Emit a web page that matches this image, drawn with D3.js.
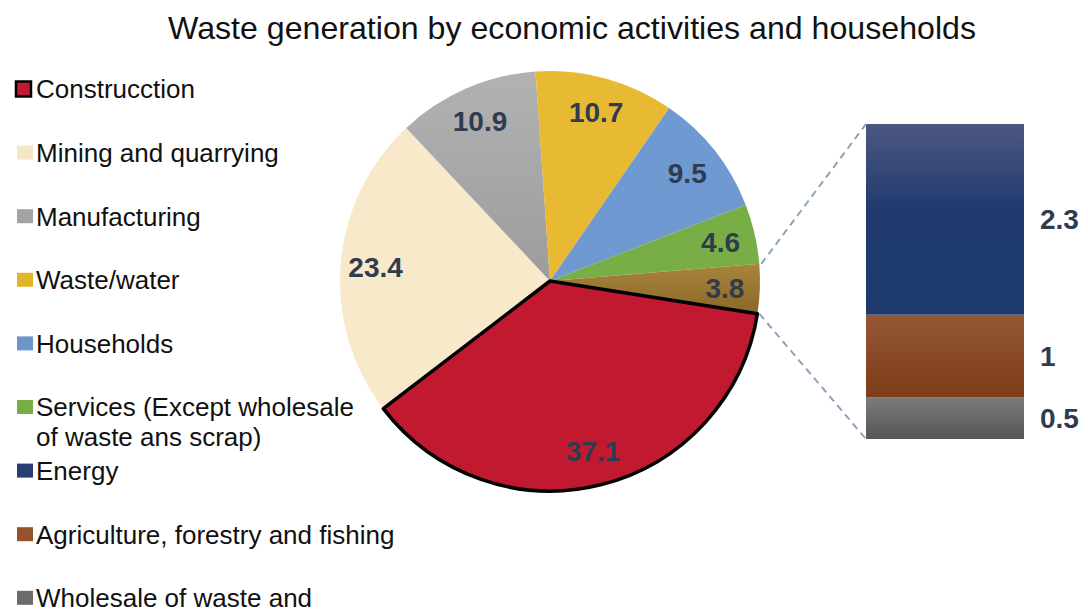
<!DOCTYPE html>
<html>
<head>
<meta charset="utf-8">
<script src="https://cdn.jsdelivr.net/npm/d3@7"></script>
<style>
  html, body { margin: 0; padding: 0; background: #fff; }
  svg { display: block; font-family: "Liberation Sans", Arial, sans-serif; }
</style>
</head>
<body>
<svg id="chart" width="1088" height="614"></svg>
<script>
// Pie slices (share of total waste, %)
const pieNames = ["Construcction", "Mining and quarrying", "Manufacturing", "Waste/water",
                  "Households", "Services (Except wholesale of waste ans scrap)", "Other"];
const pieValues = [37.1, 23.4, 10.9, 10.7, 9.5, 4.6, 3.8];

// Breakdown of the "Other" slice shown as a stacked bar
const barNames = ["Energy", "Agriculture, forestry and fishing", "Wholesale of waste and scrap"];
const barValues = [2.3, 1, 0.5];

// Legend entries (text lines per entry)
const legendLines = [
  ["Construcction"],
  ["Mining and quarrying"],
  ["Manufacturing"],
  ["Waste/water"],
  ["Households"],
  ["Services (Except wholesale", "of waste ans scrap)"],
  ["Energy"],
  ["Agriculture, forestry and fishing"],
  ["Wholesale of waste and"]
];

const title = "Waste generation by economic activities and households";

const pieColors = ["#c1192f", "#f7e9c9", "#a6a6a6", "#e8b932", "#6f99d1", "#79ae46", "#9a7833"];
const legendColors = ["#c1192f", "#f5e6c4", "#a3a3a3", "#e2b42c", "#6c95ce", "#77ac47", "#293f73", "#95522b", "#6b6b6b"];

const svg = d3.select("#chart");
const defs = svg.append("defs");

function vGrad(id, stops) {
  const g = defs.append("linearGradient").attr("id", id)
    .attr("x1", 0).attr("y1", 0).attr("x2", 0).attr("y2", 1);
  stops.forEach(s => g.append("stop").attr("offset", s[0]).attr("stop-color", s[1]));
  return `url(#${id})`;
}
const gradOther = vGrad("gOther", [[0, "#a8853c"], [1, "#8a6826"]]);
const gradManu = vGrad("gManu", [[0, "#b2b2b2"], [1, "#9c9c9c"]]);
const gradEnergy = vGrad("gEnergy", [[0, "#4d5881"], [0.45, "#213b70"], [1, "#1d396e"]]);
const gradAgri = vGrad("gAgri", [[0, "#955735"], [1, "#7e3c18"]]);
const gradWhole = vGrad("gWhole", [[0, "#7b7b7b"], [1, "#555555"]]);

const pieFills = pieColors.slice();
pieFills[2] = gradManu;
pieFills[6] = gradOther;
const barFills = [gradEnergy, gradAgri, gradWhole];

// Title
svg.append("text")
  .attr("x", 572).attr("y", 39)
  .attr("text-anchor", "middle")
  .attr("font-size", 32)
  .attr("textLength", 808)
  .attr("lengthAdjust", "spacingAndGlyphs")
  .attr("fill", "#111")
  .text(title);

// Pie
const cx = 550, cy = 281, R = 210;
const startDeg = 99;
const pie = d3.pie().sort(null)
  .startAngle(startDeg * Math.PI / 180)
  .endAngle(startDeg * Math.PI / 180 + 2 * Math.PI);
const arcs = pie(pieValues);
const arc = d3.arc().innerRadius(0).outerRadius(R);
const labelArc = d3.arc().innerRadius(175).outerRadius(175);

const pg = svg.append("g").attr("transform", `translate(${cx},${cy})`);
pg.selectAll("path.slice")
  .data(arcs)
  .join("path")
  .attr("class", "slice")
  .attr("d", arc)
  .attr("fill", (d, i) => pieFills[i]);

// Highlighted construction slice outline
pg.append("path")
  .attr("d", arc(arcs[0]))
  .attr("fill", "none")
  .attr("stroke", "#000")
  .attr("stroke-width", 3.5)
  .attr("stroke-linejoin", "round");

pg.selectAll("text.val")
  .data(arcs)
  .join("text")
  .attr("class", "val")
  .attr("transform", d => `translate(${labelArc.centroid(d)})`)
  .attr("text-anchor", "middle")
  .attr("dy", "0.36em")
  .attr("font-size", 28)
  .attr("font-weight", "bold")
  .attr("fill", "#2f3c50")
  .text(d => d3.format("")(d.data));

// Stacked bar for the "Other" breakdown (Energy on top, wholesale at bottom)
const barX = 866, barW = 158;
const y = d3.scaleLinear().domain([0, d3.sum(barValues)]).range([439, 124]);
const segs = barValues.map((v, i) => ({ v, i })).reverse();
let acc = 0;
segs.forEach(s => { s.b0 = acc; s.b1 = acc + s.v; acc += s.v; });

svg.selectAll("rect.seg")
  .data(segs)
  .join("rect")
  .attr("class", "seg")
  .attr("x", barX)
  .attr("width", barW)
  .attr("y", d => y(d.b1))
  .attr("height", d => y(d.b0) - y(d.b1))
  .attr("fill", d => barFills[d.i]);

svg.selectAll("text.barval")
  .data(segs)
  .join("text")
  .attr("class", "barval")
  .attr("x", barX + barW + 16)
  .attr("y", d => (y(d.b0) + y(d.b1)) / 2)
  .attr("dy", "0.36em")
  .attr("font-size", 28)
  .attr("font-weight", "bold")
  .attr("fill", "#2f3c50")
  .text(d => d.v);

// Connector lines from the "Other" slice to the bar
const other = arcs[6];
const pt = a => [cx + R * Math.sin(a), cy - R * Math.cos(a)];
const conn = [
  [pt(other.startAngle), [barX, y(d3.sum(barValues))]],
  [pt(other.endAngle), [barX, y(0)]]
];
svg.selectAll("line.conn")
  .data(conn)
  .join("line")
  .attr("class", "conn")
  .attr("x1", d => d[0][0] + 2).attr("y1", d => d[0][1])
  .attr("x2", d => d[1][0]).attr("y2", d => d[1][1])
  .attr("stroke", "#8fa2bb")
  .attr("stroke-width", 2)
  .attr("stroke-dasharray", "7,5");

// Legend
const rowY = i => 89 + i * 63.6;
const items = svg.append("g").selectAll("g.item")
  .data(legendLines)
  .join("g")
  .attr("class", "item")
  .attr("transform", (d, i) => `translate(0,${rowY(i)})`);

items.append("rect")
  .attr("x", (d, i) => i === 0 ? 16 : 17)
  .attr("y", (d, i) => i === 0 ? -7.5 : -7)
  .attr("width", (d, i) => i === 0 ? 15 : 16)
  .attr("height", (d, i) => i === 0 ? 15 : 14)
  .attr("fill", (d, i) => legendColors[i])
  .attr("stroke", (d, i) => i === 0 ? "#000" : "none")
  .attr("stroke-width", 2.5);

items.append("text")
  .attr("x", 36)
  .attr("font-size", 26)
  .attr("fill", "#111")
  .selectAll("tspan")
  .data(d => d)
  .join("tspan")
  .attr("x", 36)
  .attr("y", (d, j) => j * 30)
  .attr("dy", "0.36em")
  .text(d => d);
</script>
</body>
</html>
